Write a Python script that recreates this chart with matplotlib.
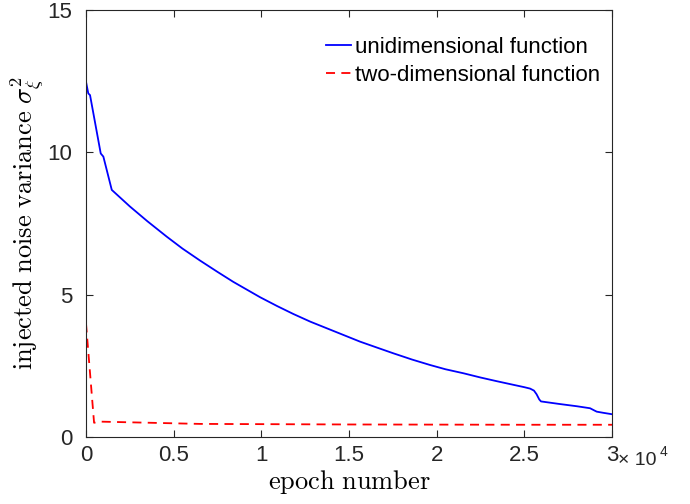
import numpy as np
import matplotlib
matplotlib.use("Agg")
import matplotlib.pyplot as plt

plt.rcParams['font.family'] = ['Liberation Sans', 'DejaVu Sans']
plt.rcParams['mathtext.fontset'] = 'cm'

# epoch number (units of 1e4) and injected noise variance
epoch_uni = [0.0, 0.013, 0.023, 0.084, 0.099, 0.147, 0.25, 0.35, 0.46, 0.55,
             0.65, 0.75, 0.84, 0.993, 1.09, 1.183, 1.28, 1.373, 1.47, 1.563,
             1.66, 1.753, 1.86, 1.962, 2.05, 2.152, 2.25, 2.343, 2.44, 2.50,
             2.533, 2.555, 2.57, 2.585, 2.595, 2.70, 2.80, 2.875, 2.90, 2.913,
             2.95, 3.0]
var_uni = [12.48, 12.07, 12.01, 9.96, 9.85, 8.68, 8.10, 7.58, 7.04, 6.62,
           6.20, 5.80, 5.45, 4.91, 4.60, 4.32, 4.05, 3.82, 3.58, 3.35,
           3.14, 2.94, 2.72, 2.53, 2.38, 2.24, 2.09, 1.96, 1.83, 1.75,
           1.70, 1.63, 1.50, 1.32, 1.25, 1.16, 1.08, 1.01, 0.93, 0.89,
           0.85, 0.80]

epoch_two = [0.0, 0.046, 0.08, 0.65, 1.5, 2.5, 3.0]
var_two = [3.99, 0.50, 0.54, 0.46, 0.44, 0.43, 0.43]

xticks = [0, 0.5, 1, 1.5, 2, 2.5, 3]
xticklabels = ['0', '0.5', '1', '1.5', '2', '2.5', '3']
yticks = [0, 5, 10, 15]

fig = plt.figure(figsize=(6.9, 5.04), dpi=100)
ax = fig.add_axes([86 / 690, 1 - 437 / 504, (612 - 86) / 690, (437 - 10) / 504])

ax.plot(epoch_uni, var_uni, color='#0000ff', lw=1.3, label='unidimensional function')
ax.plot(epoch_two, var_two, color='#ff0000', lw=1.3, ls=(0, (5, 3.5)),
        label='two-dimensional function')

ax.set_xlim(0, 3)
ax.set_ylim(0, 15)
ax.set_xticks(xticks)
ax.set_xticklabels(xticklabels)
ax.set_yticks(yticks)
ax.tick_params(direction='in', length=5, width=0.8, colors='#262626',
               labelsize=16, top=True, right=True)
ax.tick_params(axis='x', pad=6)
ax.tick_params(axis='y', pad=10)
for s in ax.spines.values():
    s.set_color('#262626')
    s.set_linewidth(0.8)

ax.set_xlabel(r'$\mathrm{epoch\ number}$', fontsize=19, labelpad=1)
ax.set_ylabel(r'$\mathrm{injected\ noise\ variance}\ \sigma_\xi^2$', fontsize=19, labelpad=1)

ax.text(1.012, -0.054, '\u00d7 10', transform=ax.transAxes, fontsize=14,
        color='#262626', ha='left', va='center')
ax.text(1.091, -0.034, '4', transform=ax.transAxes, fontsize=10,
        color='#262626', ha='left', va='center')

ax.legend(loc='upper left', frameon=False, fontsize=16, handlelength=1.15,
          handletextpad=0.15, borderaxespad=0, borderpad=0, labelspacing=0.3,
          bbox_to_anchor=(0.456, 0.937))

fig.savefig('out.png', dpi=100)
